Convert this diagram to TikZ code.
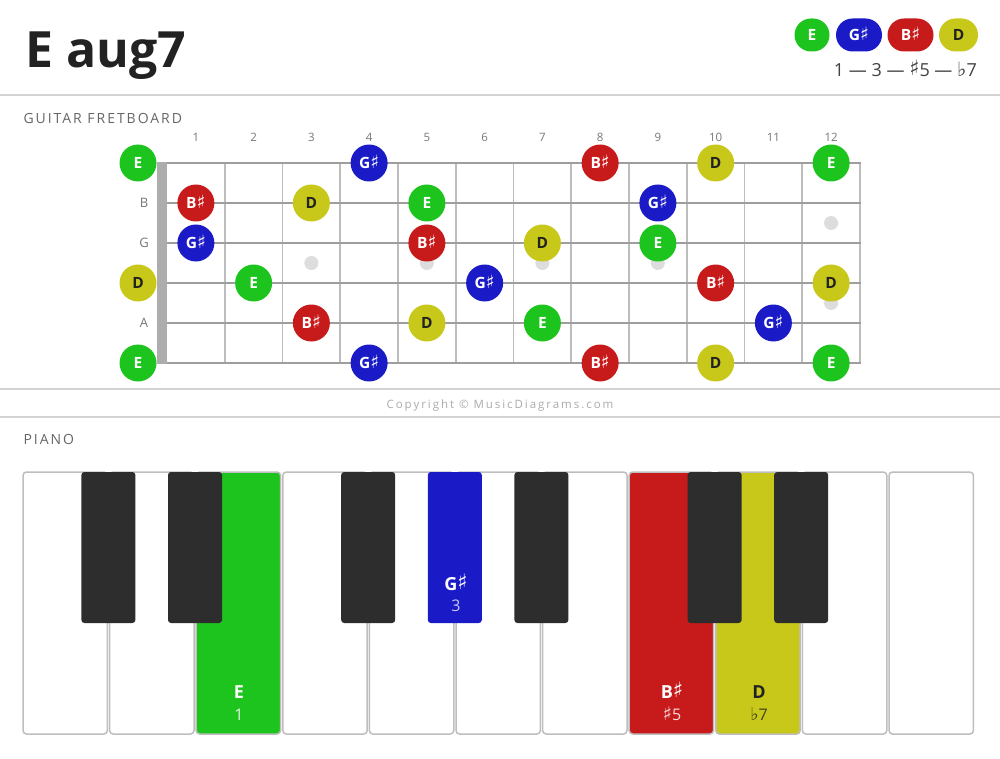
\documentclass[tikz,border=0pt]{standalone}
\usepackage{fontspec}
\setmainfont{Open Sans}
\newfontfamily\symfont{DejaVu Sans}
\newfontfamily\spacedfont[LetterSpace=14]{Open Sans}
\newfontfamily\copyfont[LetterSpace=17]{Open Sans}
\newcommand{\shp}{\smash{\raisebox{0.03em}{\symfont\mdseries\fontsize{1.18em}{1em}\selectfont ♯}}}
\newcommand{\flt}{\smash{{\symfont\mdseries\fontsize{1.1em}{1em}\selectfont ♭}}}
\newcommand{\labE}{E}
\newcommand{\labG}{G\shp}
\newcommand{\labB}{B\shp}
\newcommand{\labD}{D}
\definecolor{cE}{HTML}{1DC41D}
\definecolor{cG}{HTML}{1A1AC6}
\definecolor{cB}{HTML}{C71A1A}
\definecolor{cD}{HTML}{C8C81A}
\definecolor{ink}{HTML}{222222}
\definecolor{graytext}{HTML}{777777}
\definecolor{headgray}{HTML}{666666}
\definecolor{sepgray}{HTML}{D3D3D3}
\definecolor{stringgray}{HTML}{9E9E9E}
\definecolor{fretgray}{HTML}{BDBDBD}
\definecolor{inlay}{HTML}{DDDDDD}
\definecolor{blackkey}{HTML}{2D2D2D}
\definecolor{keyborder}{HTML}{BEBEBE}
\tikzset{
  sepline/.style={draw=sepgray, line width=2pt},
  stringline/.style={draw=stringgray, line width=2.6pt},
  fretline/.style={draw=fretgray, line width=1.8pt},
  inlaydot/.style={circle, fill=inlay, minimum size=14pt, inner sep=0pt},
  note/.style={circle, minimum size=37pt, inner sep=0pt, text=white, font=\fontsize{15.5}{15.5}\selectfont\bfseries},
  nE/.style={note, fill=cE},
  nG/.style={note, fill=cG},
  nB/.style={note, fill=cB},
  nD/.style={note, fill=cD, text=ink},
  pill/.style={rectangle, rounded corners=16.5pt, minimum height=33pt, inner sep=0pt, text=white, font=\fontsize{15.5}{15.5}\selectfont\bfseries},
  fretnum/.style={text=graytext, font=\fontsize{11.5}{12}\selectfont},
  strlabel/.style={text=graytext, font=\fontsize{13}{13}\selectfont},
  section/.style={anchor=west, text=headgray, font=\spacedfont\fontsize{14}{14}\selectfont},
  whitekey/.style={draw=keyborder, line width=1.5pt, rounded corners=3.5pt, fill=white},
  blackkeyst/.style={rounded corners=3pt, fill=blackkey},
  keyname/.style={font=\fontsize{18}{18}\selectfont\bfseries},
  keynum/.style={font=\fontsize{16}{16}\selectfont},
}
\begin{document}
\begin{tikzpicture}[x=1pt,y=-1pt]
\useasboundingbox (0,0) rectangle (1000,759);
\fill[white] (0,0) rectangle (1000,759);

% title
\node[anchor=base west, text=ink, inner sep=0pt, font=\fontsize{50}{60}\selectfont\bfseries] (title) at (25,68) {E aug7};

% legend
\node[pill, fill=cE, minimum width=35pt] (lgE) at (812,35) {E};
\node[pill, fill=cG, minimum width=46pt] (lgG) at (859,35) {G\shp};
\node[pill, fill=cB, minimum width=46pt] (lgB) at (910.5,35) {B\shp};
\node[pill, fill=cD, text=ink, minimum width=39pt] (lgD) at (958.5,35) {D};
\node[anchor=east, text=ink!85, inner sep=0pt, font=\fontsize{18}{18}\selectfont] (formula) at (977,70) {1 — 3 — \shp5 — \flt7};

% separators
\draw[sepline] (0,95) -- (1000,95);
\draw[sepline] (0,389) -- (1000,389);
\draw[sepline] (0,417) -- (1000,417);

\node[section] (gtitle) at (20,118) {GUITAR FRETBOARD};
\node[section] (ptitle) at (20,439) {PIANO};
\node[text=black!33, font=\copyfont\fontsize{11.5}{12}\selectfont] (copy) at (500,406) {Copyright © MusicDiagrams.com};

% frets
\foreach \k in {1,...,12} {
  \draw[fretline] ({167+57.75*\k},163) -- ({167+57.75*\k},363);
}
% strings
\foreach \s in {0,...,5} {
  \draw[stringline] (157,{163+40*\s}) -- (861,{163+40*\s});
}
% nut
\fill[fill=stringgray!85!white] (157,162) rectangle (167,364);

% fret numbers
\foreach \n in {1,...,12} {
  \node[fretnum] (fn\n) at ({167+57.75*(\n-0.5)},137) {\n};
}
% string labels
\node[strlabel] (slB) at (144,203) {B};
\node[strlabel] (slG) at (144,243) {G};
\node[strlabel] (slA) at (144,323) {A};

% inlays
\foreach \f in {3,5,7,9} {
  \node[inlaydot] (in\f) at ({167+57.75*(\f-0.5)},263) {};
}
\node[inlaydot] (in12a) at ({167+57.75*11.5},223) {};
\node[inlaydot] (in12b) at ({167+57.75*11.5},303) {};

% notes
\foreach \s/\f/\t [evaluate=\f as \xx using {\f==0 ? 138 : 167+57.75*(\f-0.5)}] in
  {1/0/E, 1/4/G, 1/8/B, 1/10/D, 1/12/E,
   2/1/B, 2/3/D, 2/5/E, 2/9/G,
   3/1/G, 3/5/B, 3/7/D, 3/9/E,
   4/0/D, 4/2/E, 4/6/G, 4/10/B, 4/12/D,
   5/3/B, 5/5/D, 5/7/E, 5/11/G,
   6/0/E, 6/4/G, 6/8/B, 6/10/D, 6/12/E} {
  \node[n\t] (s\s f\f) at (\xx,{163+40*(\s-1)}) {\csname lab\t\endcsname};
}

% piano white keys
\foreach \i/\c in {0/white,1/white,2/cE,3/white,4/white,5/white,6/white,7/cB,8/cD,9/white,10/white} {
  \draw[whitekey, fill=\c] ({23+86.6*\i},472) rectangle ({23+86.6*\i+84.4},734);
}
% piano black keys
\foreach \i/\c in {0/blackkey,1/blackkey,3/blackkey,4/cG,5/blackkey,7/blackkey,8/blackkey} {
  \fill[blackkeyst, fill=\c] ({23+86.6*(\i+1)-1.2-27},472) rectangle ({23+86.6*(\i+1)-1.2+27},623);
}

% key labels
\node[keyname, text=white] (kE) at (239,692) {E};
\node[keynum, text=white!85!cE] (kE1) at (239,715) {1};
\node[keyname, text=white] (kG) at (456,584) {G\shp};
\node[keynum, text=white!75!cG] (kG3) at (456,606) {3};
\node[keyname, text=white] (kB) at (672,692) {B\shp};
\node[keynum, text=white!85!cB] (kB5) at (672,715) {\shp5};
\node[keyname, text=ink] (kD) at (759,692) {D};
\node[keynum, text=ink!80!cD] (kD7) at (759,715) {\flt7};
\end{tikzpicture}
\end{document}
